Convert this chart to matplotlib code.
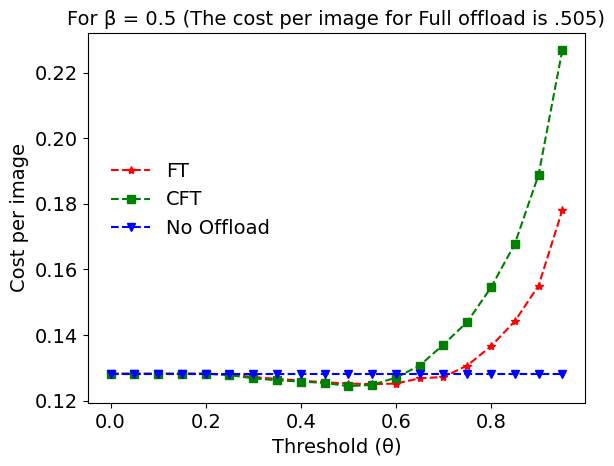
import matplotlib
matplotlib.use("Agg")
import matplotlib.pyplot as plt

thresholds = [0.0, 0.05, 0.1, 0.15, 0.2, 0.25, 0.3, 0.35, 0.4, 0.45,
              0.5, 0.55, 0.6, 0.65, 0.7, 0.75, 0.8, 0.85, 0.9, 0.95]

ft_cost = [0.1282, 0.1282, 0.1282, 0.1282, 0.1282, 0.1279, 0.1272, 0.1266, 0.1261, 0.1256,
           0.1252, 0.1250, 0.1252, 0.1268, 0.1272, 0.1307, 0.1366, 0.1442, 0.1551, 0.1781]

cft_cost = [0.1282, 0.1282, 0.1282, 0.1282, 0.1282, 0.1278, 0.1268, 0.1262, 0.1258, 0.1254,
            0.1244, 0.1248, 0.1270, 0.1307, 0.1371, 0.1440, 0.1545, 0.1678, 0.1889, 0.2270]

no_offload_cost = [0.1282] * len(thresholds)

plt.rcParams['font.size'] = 14

fig = plt.figure(figsize=(6.14, 4.66), dpi=100)
ax = fig.add_axes([0.1433, 0.1352, 0.8094, 0.794])

ax.plot(thresholds, ft_cost, color="red", linestyle="--", marker="*", label="FT")
ax.plot(thresholds, cft_cost, color="green", linestyle="--", marker="s", label="CFT")
ax.plot(thresholds, no_offload_cost, color="blue", linestyle="--", marker="v", label="No Offload")

ax.set_xlabel("Threshold (θ)")
ax.set_ylabel("Cost per image")
ax.set_title("For β = 0.5 (The cost per image for Full offload is .505)", fontsize=14)
ax.legend(loc="center left", bbox_to_anchor=(0.012, 0.549), frameon=False)

fig.savefig("out.png", dpi=100)
